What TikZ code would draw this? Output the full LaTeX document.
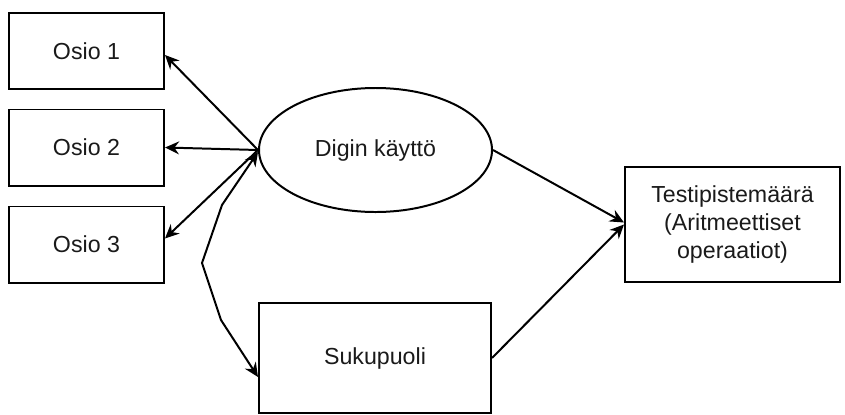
\documentclass[tikz,border=0pt]{standalone}
\usepackage{fontspec}
\setmainfont{Liberation Sans}
\usetikzlibrary{arrows.meta, shapes.geometric}
\definecolor{cline}{HTML}{000000}
\definecolor{ctext}{HTML}{1A1A1A}
\tikzset{
  every picture/.style={line width=1.7pt, >={Stealth[length=12pt, width=11pt, inset=4pt]}},
  box/.style={draw=cline, fill=white, align=center, inner sep=0pt, minimum width=#1},
  box/.default=4.65cm,
  txt/.style={font=\fontsize{19.8}{23.8}\selectfont, text=ctext},
  arrow/.style={->, draw=cline},
  twoway/.style={<->, draw=cline},
}

\begin{document}
\begin{tikzpicture}[x=0.03cm, y=-0.03cm, osio/.style={box, txt, minimum height=2.28cm}]
  \useasboundingbox (0,0) rectangle (845,414);
  \node[osio] (o1) at (86.5,51) {Osio 1};
  \node[osio] (o2) at (86.5,147.5) {Osio 2};
  \node[osio] (o3) at (86.5,244.5) {Osio 3};
  \node[ellipse, draw=cline, txt, inner sep=0pt, minimum width=6.99cm, minimum height=3.72cm] (digi) at (375.5,150) {Digin käyttö};
  \node[box=6.45cm, txt, minimum height=3.45cm] (testi) at (732.5,224.5) {Testipistemäärä\\(Aritmeettiset\\operaatiot)};
  \node[box=6.96cm, txt, minimum height=3.3cm] (suku) at (375,358) {Sukupuoli};
  \coordinate (k1) at (222,205);
  \coordinate (k2) at (202,263);
  \coordinate (k3) at (221,320);
  \draw[arrow] (digi.west) -- ([yshift=-0.12cm]o1.east);
  \draw[arrow] (digi.west) -- (o2.east);
  \draw[arrow] (digi.west) -- ([yshift=0.18cm]o3.east);
  \draw[twoway] ([yshift=-0.06cm]digi.west) -- (k1) -- (k2) -- (k3) -- ([yshift=-0.57cm]suku.west);
  \draw[arrow] (digi.east) -- ([yshift=0.06cm]testi.west);
  \draw[arrow] (suku.east) -- (testi.west);
\end{tikzpicture}
\end{document}
